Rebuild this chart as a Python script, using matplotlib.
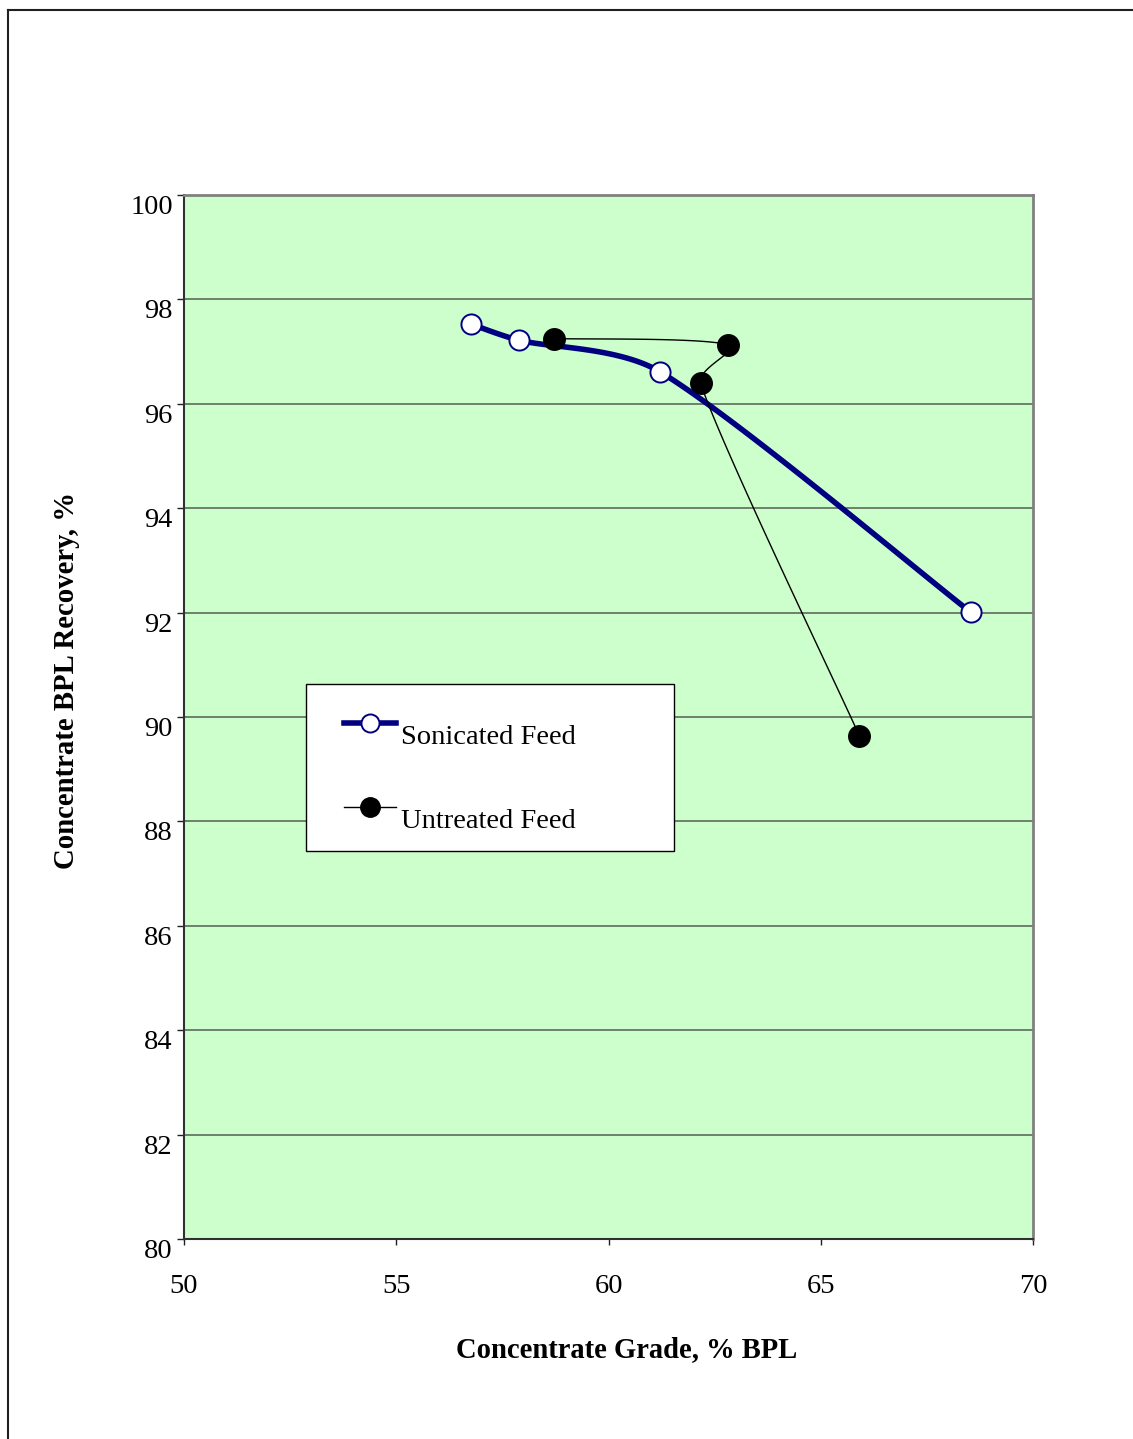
import numpy as np
import matplotlib
matplotlib.use("Agg")
import matplotlib.pyplot as plt
import matplotlib.transforms as mtransforms
from matplotlib.lines import Line2D
from matplotlib.patches import Rectangle

plt.rcParams['font.family'] = ['Liberation Serif', 'DejaVu Serif']

# Grade / recovery data
sonicated_grade = [56.75, 57.88, 61.22, 68.53]
sonicated_recovery = [97.53, 97.22, 96.61, 92.01]
untreated_grade = [58.71, 62.81, 62.17, 65.91]
untreated_recovery = [97.25, 97.13, 96.39, 89.64]

series_labels = ["Sonicated Feed", "Untreated Feed"]
x_ticks = [50, 55, 60, 65, 70]
y_ticks = [80, 82, 84, 86, 88, 90, 92, 94, 96, 98, 100]


def smooth(ax, xs, ys, n=40):
    """Bezier smoothing through every point, computed in screen space,
    with handle lengths limited to a third of each segment."""
    pts = ax.transData.transform(np.column_stack([xs, ys]).astype(float))
    ext = np.vstack([pts[0], pts, pts[-1]])
    out = []
    t = np.linspace(0, 1, n)[:, None]

    def limit(v, chord):
        L = np.hypot(*v)
        m = chord / 3.0
        return v * (m / L) if L > m else v

    for i in range(len(pts) - 1):
        p0, p1, p2, p3 = ext[i], ext[i + 1], ext[i + 2], ext[i + 3]
        chord = np.hypot(*(p2 - p1))
        c1 = p1 + limit((p2 - p0) / 6.0, chord)
        c2 = p2 - limit((p3 - p1) / 6.0, chord)
        seg = ((1 - t) ** 3) * p1 + 3 * ((1 - t) ** 2) * t * c1 \
            + 3 * (1 - t) * t ** 2 * c2 + t ** 3 * p2
        out.append(seg if i == 0 else seg[1:])
    c = ax.transData.inverted().transform(np.vstack(out))
    return c[:, 0], c[:, 1]


W, H = 1133, 1439
fig = plt.figure(figsize=(W / 100, H / 100), dpi=100)

# page frame
fig.add_artist(Line2D([8 / W, 8 / W], [0, 1 - 10 / H], transform=fig.transFigure,
                      color='#202020', lw=1.5))
fig.add_artist(Line2D([8 / W, 1], [1 - 10 / H, 1 - 10 / H], transform=fig.transFigure,
                      color='#202020', lw=1.5))

ax = fig.add_axes([184 / W, 1 - 1239 / H, 849 / W, 1044 / H])
ax.set_facecolor('#CCFFCC')
ax.set_xlim(50, 70)
ax.set_ylim(80, 100)
ax.set_xticks(x_ticks)
ax.set_yticks(y_ticks)
ax.set_xticklabels([str(v) for v in x_ticks], fontsize=20.5)
ax.set_yticklabels([str(v) for v in y_ticks], fontsize=20.5)
shift = mtransforms.ScaledTranslation(0, -3 / 100, fig.dpi_scale_trans)
for lab in ax.get_yticklabels():
    lab.set_verticalalignment('top')
    lab.set_transform(lab.get_transform() + shift)
ax.tick_params(axis='y', direction='out', length=5, width=1, pad=3, color='#202020')
ax.tick_params(axis='x', direction='out', length=4.5, width=1, pad=21, color='#202020')

ax.grid(axis='y', color='#5f6a5f', lw=1.2)
ax.set_axisbelow(True)
for side in ('top', 'right'):
    ax.spines[side].set_color('#808080')
    ax.spines[side].set_linewidth(2)
for side in ('left', 'bottom'):
    ax.spines[side].set_color('#303030')
    ax.spines[side].set_linewidth(1.5)

# Sonicated feed
sx, sy = smooth(ax, sonicated_grade, sonicated_recovery)
ax.plot(sx, sy, color='#000080', lw=4.0, solid_capstyle='round', zorder=3)
ax.plot(sonicated_grade, sonicated_recovery, ls='none', marker='o', ms=14.5,
        mfc='white', mec='#000080', mew=1.4, zorder=4, clip_on=False)

# Untreated feed
ux, uy = smooth(ax, untreated_grade, untreated_recovery)
ax.plot(ux, uy, color='black', lw=1.0, zorder=5)
ax.plot(untreated_grade, untreated_recovery, ls='none', marker='o', ms=15.5,
        mfc='black', mec='black', zorder=6, clip_on=False)

# axis titles
fig.text(67 / W, 1 - 680 / H, "Concentrate BPL Recovery, %", rotation=90,
         ha='center', va='center', fontsize=20.7, fontweight='bold')
fig.text(627 / W, 1 - 1350 / H, "Concentrate Grade, % BPL",
         ha='center', va='center', fontsize=20.6, fontweight='bold')

# legend box
fig.add_artist(Rectangle((306 / W, 1 - 851 / H), 368 / W, 167 / H,
                         transform=fig.transFigure, facecolor='white',
                         edgecolor='black', lw=1.0, zorder=10))
fig.add_artist(Line2D([344 / W, 396 / W], [1 - 723 / H] * 2, transform=fig.transFigure,
                      color='#000080', lw=4.0, zorder=11))
fig.add_artist(Line2D([370 / W], [1 - 723 / H], transform=fig.transFigure,
                      ls='none', marker='o', ms=13, mfc='white', mec='#000080',
                      mew=1.4, zorder=12))
fig.add_artist(Line2D([344 / W, 396 / W], [1 - 807 / H] * 2, transform=fig.transFigure,
                      color='black', lw=1.0, zorder=11))
fig.add_artist(Line2D([370 / W], [1 - 807 / H], transform=fig.transFigure,
                      ls='none', marker='o', ms=14, mfc='black', mec='black', zorder=12))
fig.text(401 / W, 1 - 737 / H, series_labels[0], ha='left', va='center',
         fontsize=20.5, zorder=13)
fig.text(401 / W, 1 - 822 / H, series_labels[1], ha='left', va='center',
         fontsize=20.5, zorder=13)

fig.savefig("out.png", dpi=100)
